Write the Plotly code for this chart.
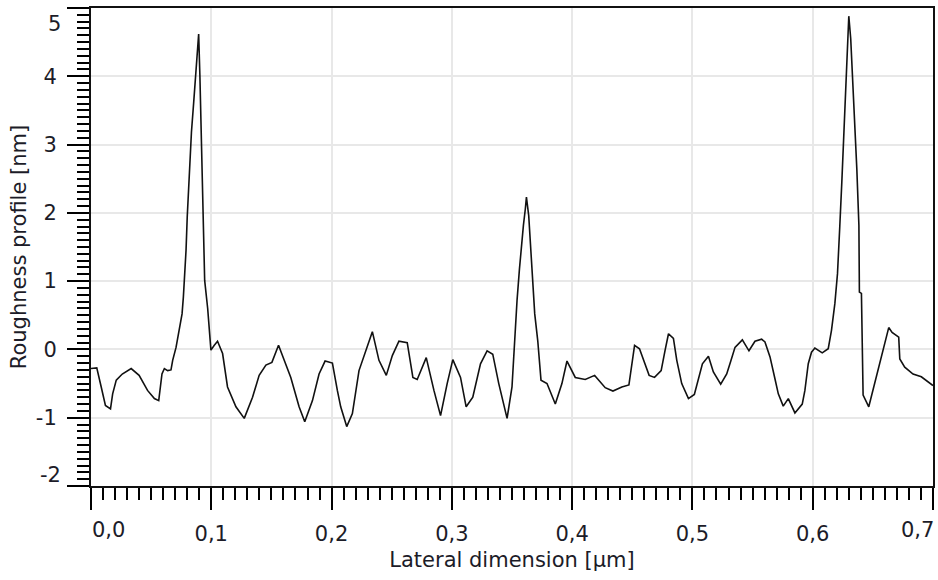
import plotly.graph_objects as go

# Lateral position [µm] and roughness height [nm]
lateral_um = [
    0.0000, 0.0023, 0.0048, 0.0085, 0.0120, 0.0162, 0.0180, 0.0210, 0.0260, 0.0334,
    0.0400, 0.0470, 0.0527, 0.0563, 0.0590, 0.0610, 0.0637, 0.0665, 0.0679, 0.0707,
    0.0734, 0.0757, 0.0768, 0.0778, 0.0790, 0.0800, 0.0818, 0.0835, 0.0853, 0.0870,
    0.0887, 0.0895, 0.0905, 0.0918, 0.0936, 0.0945, 0.0970, 0.0989, 0.0997, 0.1025,
    0.1052, 0.1094, 0.1135, 0.1205, 0.1274, 0.1343, 0.1398, 0.1454, 0.1504, 0.1559,
    0.1606, 0.1661, 0.1730, 0.1777, 0.1841, 0.1896, 0.1946, 0.2007, 0.2048, 0.2076,
    0.2126, 0.2173, 0.2228, 0.2284, 0.2339, 0.2394, 0.2455, 0.2505, 0.2560, 0.2629,
    0.2676, 0.2712, 0.2787, 0.2851, 0.2906, 0.2961, 0.3008, 0.3072, 0.3119, 0.3174,
    0.3238, 0.3293, 0.3340, 0.3390, 0.3459, 0.3500, 0.3523, 0.3542, 0.3562, 0.3578,
    0.3595, 0.3611, 0.3620, 0.3639, 0.3653, 0.3672, 0.3689, 0.3714, 0.3741, 0.3791,
    0.3860, 0.3915, 0.3957, 0.4026, 0.4109, 0.4187, 0.4275, 0.4339, 0.4413, 0.4472,
    0.4519, 0.4560, 0.4602, 0.4640, 0.4685, 0.4740, 0.4773, 0.4801, 0.4842, 0.4870,
    0.4911, 0.4967, 0.5016, 0.5050, 0.5083, 0.5133, 0.5174, 0.5235, 0.5285, 0.5321,
    0.5354, 0.5415, 0.5470, 0.5520, 0.5575, 0.5603, 0.5645, 0.5686, 0.5714, 0.5755,
    0.5797, 0.5852, 0.5913, 0.5935, 0.5963, 0.5990, 0.6018, 0.6079, 0.6129, 0.6156,
    0.6184, 0.6206, 0.6217, 0.6225, 0.6242, 0.6258, 0.6275, 0.6292, 0.6300, 0.6316,
    0.6333, 0.6350, 0.6367, 0.6384, 0.6388, 0.6405, 0.6411, 0.6419, 0.6466, 0.6516,
    0.6571, 0.6632, 0.6660, 0.6715, 0.6724, 0.6765, 0.6834, 0.6903, 0.7000,
]
roughness_nm = [
    -0.28, -0.28, -0.27, -0.55, -0.82, -0.87, -0.65, -0.45, -0.36, -0.28,
    -0.38, -0.60, -0.72, -0.75, -0.36, -0.28, -0.31, -0.30, -0.16, 0.03,
    0.28, 0.52, 0.77, 1.01, 1.45, 1.94, 2.62, 3.18, 3.60, 4.00,
    4.40, 4.62, 4.03, 2.89, 1.79, 1.01, 0.60, 0.18, -0.01, 0.06,
    0.12, -0.06, -0.55, -0.84, -1.01, -0.70, -0.38, -0.23, -0.19, 0.06,
    -0.16, -0.41, -0.84, -1.06, -0.75, -0.36, -0.17, -0.20, -0.60, -0.84,
    -1.13, -0.94, -0.31, -0.01, 0.26, -0.16, -0.38, -0.09, 0.12, 0.10,
    -0.41, -0.44, -0.12, -0.60, -0.97, -0.50, -0.15, -0.41, -0.84, -0.70,
    -0.21, -0.02, -0.07, -0.50, -1.01, -0.55, 0.23, 0.72, 1.18, 1.52,
    1.82, 2.06, 2.23, 1.96, 1.50, 1.01, 0.52, 0.13, -0.45, -0.50,
    -0.80, -0.50, -0.17, -0.41, -0.44, -0.38, -0.56, -0.61, -0.55, -0.52,
    0.06, 0.01, -0.21, -0.38, -0.41, -0.31, -0.01, 0.23, 0.16, -0.16,
    -0.50, -0.72, -0.66, -0.41, -0.21, -0.10, -0.33, -0.51, -0.36, -0.16,
    0.03, 0.14, -0.02, 0.12, 0.15, 0.11, -0.11, -0.43, -0.65, -0.83,
    -0.72, -0.93, -0.80, -0.60, -0.21, -0.04, 0.02, -0.05, 0.01, 0.28,
    0.67, 1.11, 1.45, 1.80, 2.45, 3.13, 3.83, 4.52, 4.88, 4.55,
    3.93, 3.28, 2.63, 1.82, 0.84, 0.82, -0.16, -0.67, -0.84, -0.50,
    -0.11, 0.32, 0.25, 0.18, -0.14, -0.26, -0.36, -0.40, -0.53,
]

x_tick_vals = [0.0, 0.1, 0.2, 0.3, 0.4, 0.5, 0.6, 0.7]
x_tick_text = ["0,0", "0,1", "0,2", "0,3", "0,4", "0,5", "0,6", "0,7"]
y_tick_vals = [-2, -1, 0, 1, 2, 3, 4, 5]
y_tick_text = ["-2", "-1", "0", "1", "2", "3", "4", "5"]

FONT = "DejaVu Sans"
TXT = "#1c1c28"

fig = go.Figure()
fig.add_trace(go.Scatter(
    x=lateral_um, y=roughness_nm, mode="lines",
    line=dict(color="#111111", width=1.6),
    hoverinfo="skip",
))

# end labels are drawn inside the frame (as in the reference), the rest are native tick labels
x_native = [t if v not in (0.0, 0.7) else "" for v, t in zip(x_tick_vals, x_tick_text)]
y_native = [t if v not in (-2, 5) else "" for v, t in zip(y_tick_vals, y_tick_text)]

fig.update_layout(
    width=938, height=580,
    margin=dict(l=91, r=3, t=8, b=94),
    plot_bgcolor="white", paper_bgcolor="white",
    showlegend=False,
    font=dict(family=FONT, size=21, color=TXT),
    xaxis=dict(
        range=[0, 0.7], tickvals=x_tick_vals, ticktext=x_native,
        ticks="outside", ticklen=22, tickwidth=2, tickcolor="black",
        ticklabelstandoff=6,
        showline=True, linecolor="#111111", linewidth=2, mirror=True,
        showgrid=True, gridcolor="#e8e8e8", gridwidth=2, zeroline=False,
        minor=dict(tick0=0, dtick=0.01, ticks="outside", ticklen=12,
                   tickwidth=2, tickcolor="black", showgrid=False),
        title=dict(text="Lateral dimension [µm]", standoff=7,
                   font=dict(family=FONT, size=21, color=TXT)),
    ),
    yaxis=dict(
        range=[-2, 5], tickvals=y_tick_vals, ticktext=y_native,
        ticks="outside", ticklen=22, tickwidth=2, tickcolor="black",
        ticklabelstandoff=6,
        showline=True, linecolor="#111111", linewidth=2, mirror=True,
        showgrid=True, gridcolor="#e8e8e8", gridwidth=2, zeroline=False,
        minor=dict(tick0=0, dtick=0.1, ticks="outside", ticklen=12,
                   tickwidth=2, tickcolor="black", showgrid=False),
        title=dict(text="Roughness profile [nm]", standoff=3,
                   font=dict(family=FONT, size=21, color=TXT)),
    ),
)

annos = []
# y end labels
annos.append(dict(x=0, xref="paper", y=4.76, yref="y", text=y_tick_text[-1],
                  xanchor="right", yanchor="middle", xshift=-28, showarrow=False,
                  font=dict(family=FONT, size=21, color=TXT)))
annos.append(dict(x=0, xref="paper", y=-1.846, yref="y", text=y_tick_text[0],
                  xanchor="right", yanchor="middle", xshift=-28, showarrow=False,
                  font=dict(family=FONT, size=21, color=TXT)))
# x end labels
annos.append(dict(x=0.01435, xref="x", y=0, yref="paper", text=x_tick_text[0],
                  xanchor="center", yanchor="middle", yshift=-43.5, showarrow=False,
                  font=dict(family=FONT, size=21, color=TXT)))
annos.append(dict(x=0.6867, xref="x", y=0, yref="paper", text=x_tick_text[-1],
                  xanchor="center", yanchor="middle", yshift=-43.5, showarrow=False,
                  font=dict(family=FONT, size=21, color=TXT)))
fig.update_layout(annotations=annos)

fig.write_html("out.html")
